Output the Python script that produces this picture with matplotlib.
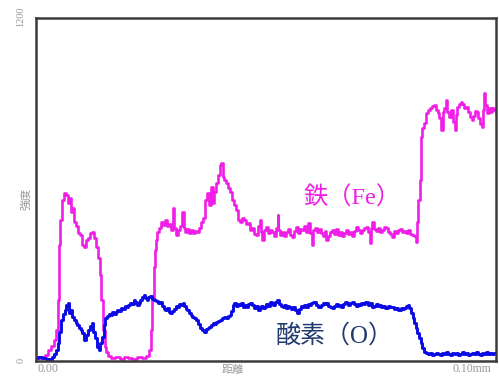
import matplotlib.pyplot as plt

# 線分析プロファイル（距離 mm / 強度 cps）
fe_dist = [0.0000, 0.0009, 0.0017, 0.0024, 0.0030, 0.0037, 0.0041, 0.0046, 0.0048, 0.0050,
           0.0052, 0.0054, 0.0059, 0.0063, 0.0067, 0.0072, 0.0074, 0.0076, 0.0080, 0.0085,
           0.0089, 0.0093, 0.0098, 0.0102, 0.0107, 0.0111, 0.0115, 0.0120, 0.0124, 0.0128,
           0.0133, 0.0137, 0.0141, 0.0143, 0.0148, 0.0150, 0.0154, 0.0161, 0.0167, 0.0178,
           0.0187, 0.0196, 0.0204, 0.0215, 0.0226, 0.0237, 0.0243, 0.0248, 0.0252, 0.0254,
           0.0257, 0.0259, 0.0261, 0.0265, 0.0270, 0.0274, 0.0278, 0.0283, 0.0287, 0.0291,
           0.0296, 0.0300, 0.0302, 0.0307, 0.0311, 0.0315, 0.0320, 0.0322, 0.0326, 0.0330,
           0.0335, 0.0339, 0.0343, 0.0348, 0.0352, 0.0357, 0.0361, 0.0365, 0.0370, 0.0374,
           0.0378, 0.0383, 0.0385, 0.0389, 0.0393, 0.0398, 0.0402, 0.0404, 0.0407, 0.0411,
           0.0415, 0.0420, 0.0424, 0.0428, 0.0433, 0.0437, 0.0441, 0.0446, 0.0450, 0.0454,
           0.0459, 0.0463, 0.0467, 0.0472, 0.0476, 0.0480, 0.0485, 0.0487, 0.0491, 0.0493,
           0.0498, 0.0502, 0.0507, 0.0511, 0.0515, 0.0520, 0.0524, 0.0526, 0.0528, 0.0533,
           0.0537, 0.0541, 0.0546, 0.0550, 0.0554, 0.0559, 0.0563, 0.0567, 0.0572, 0.0576,
           0.0580, 0.0585, 0.0589, 0.0593, 0.0598, 0.0602, 0.0604, 0.0609, 0.0613, 0.0617,
           0.0622, 0.0626, 0.0630, 0.0633, 0.0637, 0.0641, 0.0646, 0.0650, 0.0654, 0.0659,
           0.0663, 0.0667, 0.0672, 0.0676, 0.0680, 0.0685, 0.0689, 0.0693, 0.0698, 0.0702,
           0.0707, 0.0711, 0.0715, 0.0720, 0.0724, 0.0726, 0.0730, 0.0733, 0.0737, 0.0741,
           0.0746, 0.0750, 0.0754, 0.0759, 0.0763, 0.0767, 0.0772, 0.0776, 0.0780, 0.0785,
           0.0789, 0.0793, 0.0798, 0.0802, 0.0807, 0.0811, 0.0815, 0.0820, 0.0824, 0.0828,
           0.0830, 0.0833, 0.0835, 0.0837, 0.0839, 0.0841, 0.0846, 0.0850, 0.0854, 0.0859,
           0.0863, 0.0867, 0.0872, 0.0874, 0.0878, 0.0883, 0.0885, 0.0889, 0.0893, 0.0896,
           0.0900, 0.0904, 0.0909, 0.0911, 0.0915, 0.0917, 0.0922, 0.0926, 0.0928, 0.0933,
           0.0937, 0.0941, 0.0946, 0.0948, 0.0952, 0.0957, 0.0959, 0.0963, 0.0967, 0.0970,
           0.0972, 0.0976, 0.0978, 0.0983, 0.0987, 0.0991, 0.0993, 0.0998, 0.1000]
fe_int = [10, 10, 14, 21, 38, 52, 73, 108, 213, 301,
          406, 493, 563, 588, 581, 553, 570, 521, 535, 486,
          472, 448, 441, 406, 399, 423, 430, 448, 451, 430,
          399, 360, 301, 213, 108, 49, 31, 17, 10, 14,
          7, 14, 10, 7, 14, 10, 17, 38, 108, 213,
          329, 388, 423, 451, 465, 486, 476, 493, 472, 479,
          458, 535, 465, 441, 458, 472, 521, 465, 451, 462,
          448, 458, 448, 455, 451, 465, 486, 500, 563, 588,
          546, 609, 553, 592, 623, 651, 686, 693, 644, 634,
          623, 606, 592, 563, 546, 528, 493, 486, 500, 493,
          479, 483, 458, 465, 444, 441, 472, 493, 451, 423,
          458, 469, 448, 458, 451, 437, 465, 511, 458, 441,
          451, 437, 451, 462, 441, 434, 455, 469, 448, 462,
          458, 472, 451, 483, 448, 406, 458, 465, 451, 462,
          448, 437, 455, 423, 437, 451, 458, 444, 462, 441,
          451, 437, 448, 458, 444, 451, 437, 455, 469, 458,
          448, 458, 465, 469, 451, 413, 465, 486, 462, 455,
          465, 451, 458, 469, 465, 451, 444, 434, 455, 448,
          458, 462, 451, 455, 448, 458, 444, 441, 437, 416,
          486, 563, 633, 721, 784, 815, 833, 868, 878, 885,
          892, 896, 878, 868, 850, 808, 871, 885, 913, 871,
          854, 878, 836, 808, 861, 889, 899, 906, 899, 885,
          889, 871, 854, 843, 857, 875, 871, 850, 829, 819,
          878, 938, 896, 868, 885, 871, 885, 878, 871]

o_dist = [0.0000, 0.0009, 0.0017, 0.0026, 0.0033, 0.0037, 0.0041, 0.0046, 0.0050, 0.0052,
          0.0057, 0.0061, 0.0063, 0.0067, 0.0070, 0.0072, 0.0076, 0.0080, 0.0085, 0.0087,
          0.0091, 0.0096, 0.0098, 0.0102, 0.0107, 0.0111, 0.0115, 0.0120, 0.0122, 0.0126,
          0.0130, 0.0135, 0.0137, 0.0141, 0.0146, 0.0148, 0.0152, 0.0157, 0.0161, 0.0163,
          0.0167, 0.0172, 0.0174, 0.0178, 0.0183, 0.0187, 0.0191, 0.0196, 0.0200, 0.0202,
          0.0207, 0.0211, 0.0213, 0.0217, 0.0222, 0.0224, 0.0228, 0.0233, 0.0235, 0.0239,
          0.0243, 0.0246, 0.0250, 0.0254, 0.0259, 0.0263, 0.0267, 0.0272, 0.0276, 0.0280,
          0.0283, 0.0287, 0.0291, 0.0293, 0.0298, 0.0302, 0.0307, 0.0309, 0.0313, 0.0317,
          0.0320, 0.0324, 0.0328, 0.0330, 0.0335, 0.0339, 0.0341, 0.0346, 0.0350, 0.0354,
          0.0359, 0.0363, 0.0367, 0.0372, 0.0376, 0.0378, 0.0383, 0.0387, 0.0391, 0.0393,
          0.0398, 0.0402, 0.0407, 0.0411, 0.0415, 0.0420, 0.0422, 0.0426, 0.0430, 0.0433,
          0.0437, 0.0441, 0.0443, 0.0448, 0.0452, 0.0457, 0.0459, 0.0463, 0.0467, 0.0472,
          0.0476, 0.0480, 0.0485, 0.0487, 0.0491, 0.0496, 0.0498, 0.0502, 0.0507, 0.0511,
          0.0513, 0.0517, 0.0522, 0.0526, 0.0530, 0.0535, 0.0537, 0.0541, 0.0546, 0.0550,
          0.0552, 0.0557, 0.0561, 0.0565, 0.0570, 0.0574, 0.0578, 0.0580, 0.0585, 0.0589,
          0.0593, 0.0596, 0.0600, 0.0604, 0.0607, 0.0611, 0.0615, 0.0617, 0.0622, 0.0626,
          0.0630, 0.0633, 0.0637, 0.0641, 0.0646, 0.0650, 0.0654, 0.0659, 0.0661, 0.0665,
          0.0670, 0.0674, 0.0676, 0.0680, 0.0685, 0.0689, 0.0693, 0.0698, 0.0702, 0.0704,
          0.0709, 0.0713, 0.0717, 0.0720, 0.0724, 0.0728, 0.0733, 0.0737, 0.0741, 0.0746,
          0.0748, 0.0752, 0.0757, 0.0761, 0.0763, 0.0767, 0.0772, 0.0776, 0.0780, 0.0785,
          0.0789, 0.0791, 0.0796, 0.0800, 0.0802, 0.0807, 0.0809, 0.0813, 0.0817, 0.0820,
          0.0824, 0.0828, 0.0830, 0.0835, 0.0839, 0.0841, 0.0846, 0.0850, 0.0854, 0.0859,
          0.0863, 0.0867, 0.0872, 0.0876, 0.0880, 0.0885, 0.0889, 0.0893, 0.0898, 0.0902,
          0.0907, 0.0911, 0.0915, 0.0920, 0.0924, 0.0928, 0.0933, 0.0937, 0.0941, 0.0946,
          0.0950, 0.0954, 0.0959, 0.0963, 0.0967, 0.0972, 0.0976, 0.0980, 0.0985, 0.0989,
          0.0993, 0.1000]
o_int = [10, 14, 10, 7, 3, 14, 24, 38, 63, 101,
         143, 164, 178, 196, 203, 168, 178, 154, 143, 133,
         126, 115, 108, 98, 73, 91, 108, 122, 133, 101,
         80, 49, 38, 63, 84, 126, 150, 157, 164, 161,
         171, 164, 171, 178, 175, 185, 182, 192, 189, 196,
         203, 199, 213, 206, 196, 203, 213, 224, 231, 220,
         213, 224, 227, 217, 213, 210, 203, 206, 192, 182,
         178, 185, 171, 168, 175, 182, 192, 189, 199, 196,
         203, 192, 182, 178, 168, 161, 154, 150, 143, 129,
         115, 108, 101, 112, 115, 119, 126, 133, 129, 136,
         140, 143, 150, 154, 150, 157, 161, 175, 196, 203,
         192, 199, 196, 203, 189, 196, 189, 199, 203, 196,
         185, 192, 178, 185, 192, 185, 189, 199, 192, 206,
         203, 196, 206, 213, 199, 192, 189, 196, 185, 192,
         189, 182, 189, 178, 168, 182, 192, 189, 196, 189,
         199, 196, 203, 206, 206, 196, 189, 189, 196, 203,
         199, 203, 192, 189, 185, 192, 199, 192, 196, 189,
         199, 206, 203, 196, 203, 206, 199, 192, 199, 196,
         203, 199, 206, 206, 196, 203, 189, 192, 199, 192,
         196, 189, 192, 185, 185, 192, 189, 189, 182, 185,
         178, 178, 185, 182, 185, 192, 196, 185, 168, 150,
         133, 115, 98, 80, 63, 45, 31, 28, 24, 28,
         21, 24, 28, 24, 21, 28, 24, 31, 24, 21,
         28, 24, 28, 21, 24, 31, 24, 28, 21, 24,
         28, 24, 31, 24, 21, 28, 24, 31, 24, 28,
         24, 28]

FE_COLOR = '#F01EE6'
O_COLOR = '#0A0AE6'
LABEL_COLOR = '#1F3A6E'
TICK_GRAY = '#9A9A9A'

fig = plt.figure(figsize=(4.99, 3.76), dpi=100)
ax = fig.add_axes([36 / 499, 15 / 376, 460 / 499, 343 / 376])

ax.plot(fe_dist, fe_int, color=FE_COLOR, lw=1.9, drawstyle='steps-mid')
ax.plot(o_dist, o_int, color=O_COLOR, lw=2.1, drawstyle='steps-mid')

ax.set_xlim(0, 0.10)
ax.set_ylim(0, 1200)
ax.set_xticks([])
ax.set_yticks([])
for sp in ax.spines.values():
    sp.set_color('#3c3c3c')
    sp.set_linewidth(1.8)

jp = ['Liberation Serif', 'Noto Sans CJK JP']
ax.text(0.0582, 570, '鉄（Fe）', color=FE_COLOR, fontsize=17.5,
        family=jp, ha='left', va='center')
ax.text(0.0520, 90, '酸素（O）', color=LABEL_COLOR, fontsize=18,
        family=jp, ha='left', va='center')

# 軸まわりの注記（目盛線なし）
cjk = ['Noto Sans CJK JP', 'DejaVu Sans']
fig.text(21 / 499, 1 - 17 / 376, '1200', rotation=90, color=TICK_GRAY,
         fontsize=7.5, family='Liberation Serif', ha='center', va='center')
fig.text(26 / 499, 1 - 199 / 376, '強度', rotation=90, color=TICK_GRAY,
         fontsize=8, family=cjk, ha='center', va='center')
fig.text(21 / 499, 1 - 360 / 376, '0', rotation=90, color=TICK_GRAY,
         fontsize=7.5, family='Liberation Serif', ha='center', va='center')
fig.text(37 / 499, 1 - 375 / 376, '0.00', color=TICK_GRAY,
         fontsize=8.5, family='Liberation Serif', ha='left', va='bottom')
fig.text(233 / 499, 1 - 375 / 376, '距離', color=TICK_GRAY,
         fontsize=8, family=cjk, ha='center', va='bottom')
fig.text(491 / 499, 1 - 375 / 376, '0.10mm', color=TICK_GRAY,
         fontsize=8.5, family='Liberation Serif', ha='right', va='bottom')

fig.savefig('out.png', dpi=100, facecolor='white')
